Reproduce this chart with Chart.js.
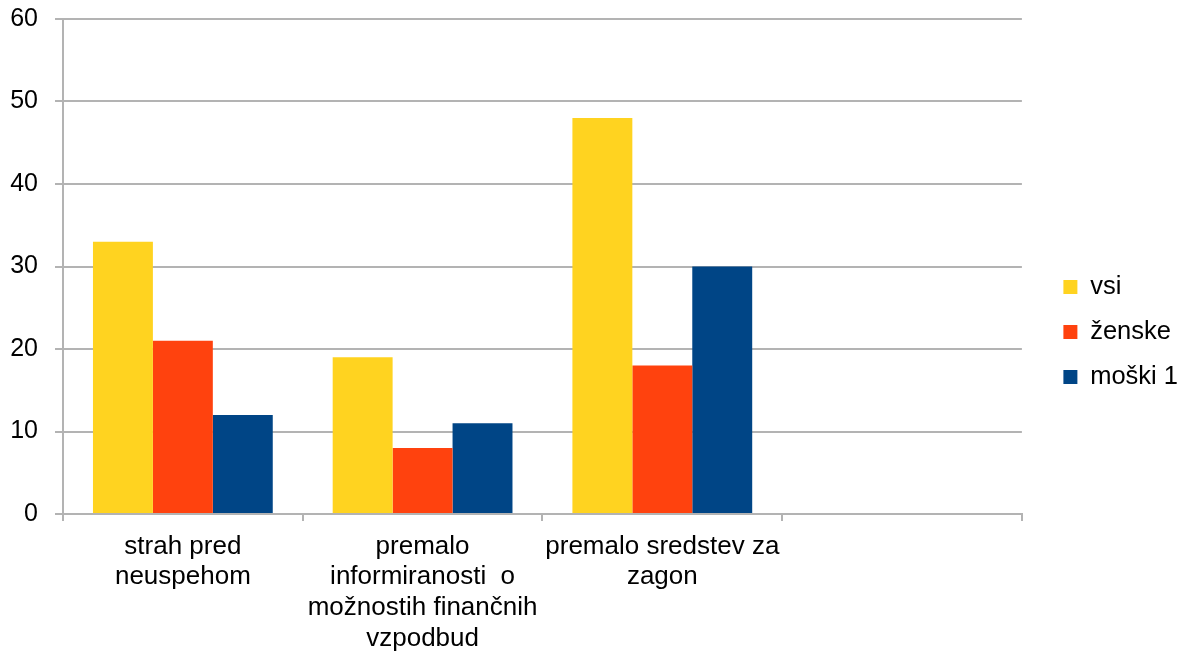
<!DOCTYPE html>
<html><head><meta charset="utf-8">
<script src="https://cdn.jsdelivr.net/npm/chart.js@4/dist/chart.umd.min.js"></script>
<style>html,body{margin:0;padding:0;background:#fff}#wrap{width:1181px;height:654px}</style>
</head><body><div id="wrap"><canvas id="c" width="1181" height="654"></canvas></div>
<script>
const categories = [["strah pred","neuspehom"],["premalo","informiranosti  o","možnostih finančnih","vzpodbud"],["premalo sredstev za","zagon"],""];
const seriesNames = ["vsi","ženske","moški 1"];
const vsi = [33,19,48,null];
const zenske = [21,8,18,null];
const moski = [12,11,30,null];
const yTicks = [0,10,20,30,40,50,60];
const colors = ["#FFD320","#FF420E","#004586"];
const grid = "#b3b3b3";
Chart.defaults.font.family = "'Liberation Sans', Arial, sans-serif";
Chart.defaults.color = "#000";
const legendShift = {
  id: 'legendShift',
  afterLayout(chart) {
    const lg = chart.legend;
    if (lg) { lg.left += 22; lg.right += 22; lg.top += 5; lg.bottom += 5; }
  }
};
new Chart(document.getElementById('c'), {
  type: 'bar',
  data: {
    labels: categories,
    datasets: [vsi, zenske, moski].map((d,i)=>({label: seriesNames[i], data: d, backgroundColor: colors[i], borderWidth: 0, categoryPercentage: 0.75, barPercentage: 1.0}))
  },
  plugins: [legendShift],
  options: {
    responsive: false, animation: false,
    layout: {padding: {left: 0, top: 0, right: 15, bottom: 0}},
    plugins: {
      legend: {position: 'right', align: 'center',
        labels: {boxWidth: 14, boxHeight: 14, padding: 19.5, font: {size: 25.5}, color: '#000'}},
      tooltip: {enabled: false}
    },
    scales: {
      x: {
        afterFit: s => { s.height = 140; },
        grid: {offset: true, color: c => c.index === 4 ? grid : 'transparent', lineWidth: 2, tickColor: grid, tickLength: 7, drawOnChartArea: true},
        border: {color: grid, width: 2},
        ticks: {padding: 10, maxRotation: 0, autoSkip: false, font: {size: 26, lineHeight: 1.18}}
      },
      y: {
        min: yTicks[0], max: yTicks[yTicks.length-1],
        afterFit: s => { s.width = 63; s.paddingTop = 19; s.paddingBottom = 0; },
        ticks: {stepSize: 10, padding: 17, font: {size: 25}},
        grid: {color: grid, lineWidth: 2, tickLength: 8, tickColor: grid},
        border: {color: grid, width: 2}
      }
    }
  }
});
</script></body></html>
